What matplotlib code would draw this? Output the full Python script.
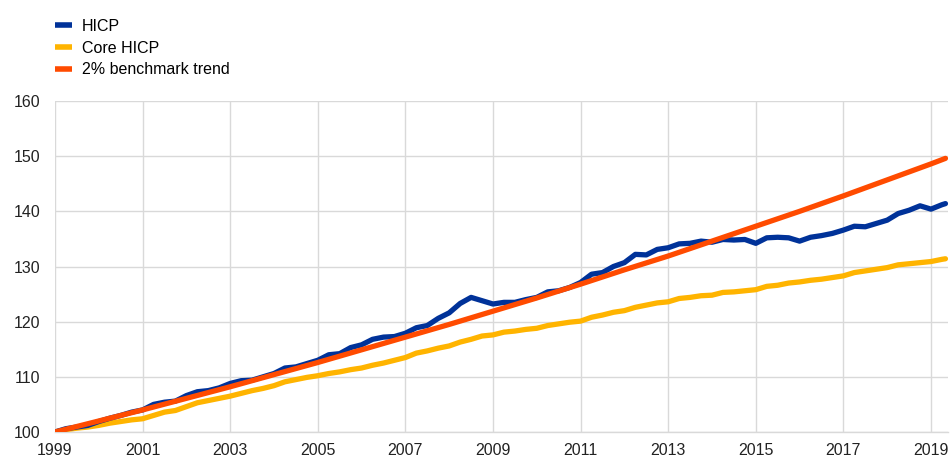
import numpy as np
import matplotlib
matplotlib.use("Agg")
import matplotlib.pyplot as plt

plt.rcParams["font.family"] = ["Liberation Sans", "DejaVu Sans"]

# quarterly observations, index 1999 = 100
start_year = 1999.0
hicp = [
    100.0, 100.6, 100.9, 101.2, 101.9, 102.5, 103.0, 103.6,
    104.0, 105.0, 105.4, 105.6, 106.6, 107.3, 107.5, 108.0,
    108.8, 109.3, 109.4, 110.0, 110.6, 111.6, 111.8, 112.4,
    113.0, 114.0, 114.2, 115.3, 115.8, 116.8, 117.2, 117.3,
    117.9, 118.9, 119.3, 120.6, 121.6, 123.3, 124.4, 123.8,
    123.2, 123.5, 123.5, 124.0, 124.4, 125.4, 125.6, 126.2,
    127.1, 128.6, 128.9, 130.0, 130.7, 132.2, 132.1, 133.1,
    133.4, 134.1, 134.2, 134.6, 134.4, 134.9, 134.8, 134.9,
    134.2, 135.2, 135.3, 135.2, 134.6, 135.3, 135.6, 136.0,
    136.6, 137.3, 137.2, 137.8, 138.4, 139.6, 140.2, 141.0,
    140.4, 141.2,
]
core = [
    100.0, 100.4, 100.7, 100.9, 101.2, 101.6, 101.9, 102.2,
    102.4, 103.0, 103.6, 103.9, 104.6, 105.3, 105.7, 106.1,
    106.5, 107.0, 107.5, 107.9, 108.4, 109.1, 109.5, 109.9,
    110.2, 110.6, 110.9, 111.3, 111.6, 112.1, 112.5, 113.0,
    113.5, 114.3, 114.7, 115.2, 115.6, 116.3, 116.8, 117.4,
    117.6, 118.1, 118.3, 118.6, 118.8, 119.3, 119.6, 119.9,
    120.1, 120.8, 121.2, 121.7, 122.0, 122.6, 123.0, 123.4,
    123.6, 124.2, 124.4, 124.7, 124.8, 125.3, 125.4, 125.6,
    125.8, 126.4, 126.6, 127.0, 127.2, 127.5, 127.7, 128.0,
    128.3, 128.9, 129.2, 129.5, 129.8, 130.3, 130.5, 130.7,
    130.9, 131.3,
]
last_month = 2019.33
hicp_last = 141.4
core_last = 131.4

# 2% benchmark, yearly
bench_years = list(range(1999, 2020)) + [2019.33]
bench = [
    100.0, 102.0, 104.0, 106.1, 108.2, 110.4, 112.6, 114.9,
    117.2, 119.5, 121.9, 124.3, 126.8, 129.4, 131.9, 134.6,
    137.3, 140.0, 142.8, 145.7, 148.6, 149.6,
]

labels = ["HICP", "Core HICP", "2% benchmark trend"]
colors = ["#003299", "#FFB400", "#FF4B00"]
year_ticks = list(range(1999, 2020, 2))
y_ticks = [100, 110, 120, 130, 140, 150, 160]

t = [start_year + i / 4 for i in range(len(hicp))] + [last_month]
hicp_s = hicp + [hicp_last]
core_s = core + [core_last]

fig = plt.figure(figsize=(9.52, 4.57), dpi=100)
ax = fig.add_axes([55 / 952, 25 / 457, 893 / 952, 331 / 457])

lw = 3.8
l1, = ax.plot(t, hicp_s, color=colors[0], lw=lw, zorder=3, solid_capstyle="round")
l2, = ax.plot(t, core_s, color=colors[1], lw=lw, zorder=2, solid_capstyle="round")
l3, = ax.plot(bench_years, bench, color=colors[2], lw=lw, zorder=4, solid_capstyle="round")

ax.set_xlim(1999, 1999 + 893 / 43.8)
ax.set_ylim(100, 160)
ax.set_xticks(year_ticks)
ax.set_yticks(y_ticks)
ax.grid(True, color="#d9d9d9", lw=1.0)
ax.set_axisbelow(True)
for s in ["top", "right", "left"]:
    ax.spines[s].set_visible(False)
ax.spines["bottom"].set_color("#d9d9d9")
ax.spines["bottom"].set_linewidth(1.0)
ax.tick_params(axis="both", length=0, labelsize=11.5, colors="#222222")
ax.tick_params(axis="y", pad=10.5)
ax.tick_params(axis="x", pad=8)

fig.legend([l1, l2, l3], labels, loc="upper left",
           bbox_to_anchor=(55 / 952, 1 - 19 / 457), frameon=False,
           fontsize=11.5, handlelength=1.05, handletextpad=0.65,
           labelspacing=0.42, borderpad=0, borderaxespad=0)
for h in fig.legends[0].legend_handles:
    h.set_linewidth(4)
    h.set_solid_capstyle("butt")

fig.savefig("out.png", dpi=100)
